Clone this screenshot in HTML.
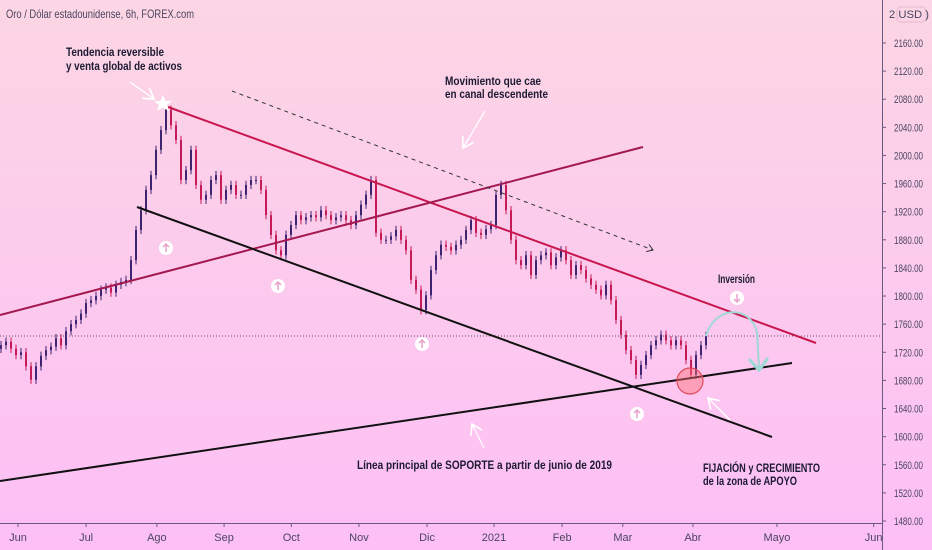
<!DOCTYPE html>
<html><head><meta charset="utf-8"><style>
html,body{margin:0;padding:0;width:932px;height:550px;overflow:hidden}
svg{display:block}
.t{font-family:"Liberation Sans",sans-serif;font-weight:bold;font-size:12px;fill:#1c1a33}
.ax{font-family:"Liberation Sans",sans-serif;font-size:11px;fill:#4a4560}
</style></head><body>
<svg id="chart" width="932" height="550">
<defs><linearGradient id="bg" x1="0" y1="0" x2="0" y2="1"><stop offset="0" stop-color="#fcd6e4"/><stop offset="1" stop-color="#fdbff6"/></linearGradient>
<marker id="ah" markerWidth="8" markerHeight="8" refX="6" refY="4" orient="auto"><path d="M0,0 L6,4 L0,8" fill="none" stroke="#333" stroke-width="1"/></marker>
<marker id="ahw" markerWidth="10" markerHeight="10" refX="8" refY="5" orient="auto"><path d="M0,0 L8,5 L0,10" fill="none" stroke="#fff" stroke-width="1.3"/></marker>
<marker id="aht" markerWidth="10" markerHeight="10" refX="5" refY="5" orient="auto"><path d="M0,0 L6,5 L0,10" fill="none" stroke="#9fd9d6" stroke-width="1.6"/></marker>
</defs>
<rect width="932" height="550" fill="url(#bg)"/>
<g id="candles"></g>
<g id="ax"></g>
<g id="tx"></g>
<line x1="0" y1="336" x2="882" y2="336" stroke="#555" stroke-width="1" stroke-dasharray="1,2"/>
<line x1="168" y1="107" x2="816" y2="343" stroke="#c8174f" stroke-width="2"/>
<line x1="0" y1="315" x2="643" y2="147" stroke="#a3184f" stroke-width="2"/>
<line x1="137" y1="207" x2="772" y2="437" stroke="#111" stroke-width="2"/>
<line x1="0" y1="481" x2="792" y2="363" stroke="#111" stroke-width="2"/>
<line x1="232" y1="91" x2="653" y2="250" stroke="#333" stroke-width="1" stroke-dasharray="4,4" marker-end="url(#ah)"/>
<circle cx="690" cy="381" r="13" fill="rgba(255,110,120,0.45)" stroke="#e04a5a" stroke-width="1.2"/>
<path d="M706,336 C715,305 750,305 757,332 L759,368" fill="none" stroke="#9fd9d6" stroke-width="2" marker-end="url(#aht)"/>
<polygon points="163,95 165.5,101 172,101 167,105 169,111 163,107.5 157,111 159,105 154,101 160.5,101" fill="#fff"/>
<line x1="130" y1="82" x2="154" y2="99" stroke="#fff" stroke-width="1.3" marker-end="url(#ahw)"/>
<line x1="485" y1="111" x2="463" y2="148" stroke="#fff" stroke-width="1.3" marker-end="url(#ahw)"/>
<line x1="484" y1="448" x2="472" y2="424" stroke="#fff" stroke-width="1.3" marker-end="url(#ahw)"/>
<line x1="730" y1="420" x2="708" y2="398" stroke="#fff" stroke-width="1.3" marker-end="url(#ahw)"/>
<g id="icons"></g>
<text class="t" x="66" y="56" textLength="98" lengthAdjust="spacingAndGlyphs">Tendencia reversible</text>
<text class="t" x="66" y="70" textLength="116" lengthAdjust="spacingAndGlyphs">y venta global de activos</text>
<text class="t" x="445" y="85" textLength="96" lengthAdjust="spacingAndGlyphs">Movimiento que cae</text>
<text class="t" x="445" y="98" textLength="103" lengthAdjust="spacingAndGlyphs">en canal descendente</text>
<text class="t" x="718" y="283" textLength="37" lengthAdjust="spacingAndGlyphs">Inversión</text>
<text class="t" x="357" y="469" textLength="255" lengthAdjust="spacingAndGlyphs">Línea principal de SOPORTE a partir de junio de 2019</text>
<text class="t" x="703" y="472" textLength="117" lengthAdjust="spacingAndGlyphs">FIJACIÓN y CRECIMIENTO</text>
<text class="t" x="703" y="485" textLength="94" lengthAdjust="spacingAndGlyphs">de la zona de APOYO</text>
<text x="6" y="18" textLength="188" lengthAdjust="spacingAndGlyphs" style="font-family:'Liberation Sans',sans-serif;font-size:12px;fill:#4a4560">Oro / Dólar estadounidense, 6h, FOREX.com</text>
<rect x="897" y="7" width="29" height="15" rx="4" fill="none" stroke="#e8b8d0"/>
<text class="ax" x="889" y="18" textLength="40" lengthAdjust="spacingAndGlyphs">2 USD )</text>
</svg>
<script>
const prices=[1730,1735,1725,1716,1720,1700,1681,1700,1715,1723,1728,1740,1730,1750,1760,1766,1775,1790,1794,1800,1809,1812,1805,1816,1820,1823,1851,1894,1922,1951,1972,2008,2036,2065,2043,2022,1965,1979,2008,1958,1937,1944,1965,1972,1937,1951,1958,1944,1944,1958,1965,1965,1951,1915,1887,1865,1858,1887,1901,1915,1908,1912,1915,1912,1922,1915,1908,1912,1915,1908,1901,1915,1930,1944,1965,1890,1880,1880,1885,1894,1880,1865,1823,1809,1780,1801,1837,1858,1873,1870,1865,1873,1880,1894,1908,1890,1887,1895,1901,1944,1958,1922,1880,1851,1844,1858,1830,1851,1858,1862,1844,1855,1865,1851,1830,1844,1837,1825,1816,1809,1801,1816,1794,1766,1745,1723,1709,1688,1702,1716,1730,1737,1745,1737,1730,1737,1730,1709,1688,1716,1730,1743];
const priceTicks=[2160,2120,2080,2040,2000,1960,1920,1880,1840,1800,1760,1720,1680,1640,1600,1560,1520,1480];
const monthLabels=["Jun","Jul","Ago","Sep","Oct","Nov","Dic","2021","Feb","Mar","Abr","Mayo","Jun"];
const monthIdx=[0,30.4,62,92,122,152.2,182.6,212.5,242.9,270,301.3,338.8,382];
const NS="http://www.w3.org/2000/svg";
const yS=p=>521-(p-1480)*0.703;
const xS=i=>1+i*5;
const xD=d=>18+d*2.24;
function mk(t,a,p){const e=document.createElementNS(NS,t);for(const k in a)e.setAttribute(k,a[k]);(p||document.getElementById('chart')).appendChild(e);return e;}
const cg=document.getElementById('candles');
for(let i=0;i<prices.length;i++){
  const c=prices[i],o=i?prices[i-1]:c-5;const up=c>=o;const col=up?'#3d2470':'#c41a55';
  const hi=Math.max(o,c)+6,lo=Math.min(o,c)-6;
  const w=mk('line',{x1:xS(i),x2:xS(i),y1:yS(hi),y2:yS(lo),stroke:col,'stroke-width':1},cg);
  
  
  const top=yS(Math.max(o,c)),bot=yS(Math.min(o,c));
  const b=mk('rect',{x:xS(i)-1,y:top,width:2,height:Math.max(1,bot-top),fill:col},cg);
  
  
}
const ax=document.getElementById('ax');
mk('line',{x1:882.5,y1:0,x2:882.5,y2:550,stroke:'#6a5a80','stroke-width':1},ax);
priceTicks.forEach(p=>{
  mk('line',{x1:882,x2:886,y1:yS(p),y2:yS(p),stroke:'#6a5a80'},ax);
  const t=mk('text',{x:894,y:yS(p)+4,class:'ax',textLength:29,lengthAdjust:'spacingAndGlyphs'},ax);t.textContent=p.toFixed(2);
  
  
});
const tx=document.getElementById('tx');
mk('line',{x1:0,y1:523.5,x2:882,y2:523.5,stroke:'#6a5a80'},tx);
monthLabels.forEach((m,i)=>{
  const x=xD(monthIdx[i]);
  mk('line',{x1:x,x2:x,y1:523,y2:527,stroke:'#6a5a80'},tx);
  const t=mk('text',{x:x,y:541,class:'ax','text-anchor':'middle'},tx);t.textContent=m;
  
  
});
const ic=document.getElementById('icons');
[[166,248,1],[278,286,1],[422,344,1],[637,414,1],[737,298,0]].forEach(a=>{
  const g=mk('g',{},ic);
  
  
  mk('circle',{cx:a[0],cy:a[1],r:7,fill:'#fff'},g);
  const s=a[2]?-1:1;
  mk('path',{d:`M${a[0]},${a[1]-4*s} L${a[0]},${a[1]+4*s} M${a[0]-3},${a[1]+1*s} L${a[0]},${a[1]+4*s} L${a[0]+3},${a[1]+1*s}`,stroke:'#e8a0c8','stroke-width':1.5,fill:'none'},g);
});
</script>
</body></html>
